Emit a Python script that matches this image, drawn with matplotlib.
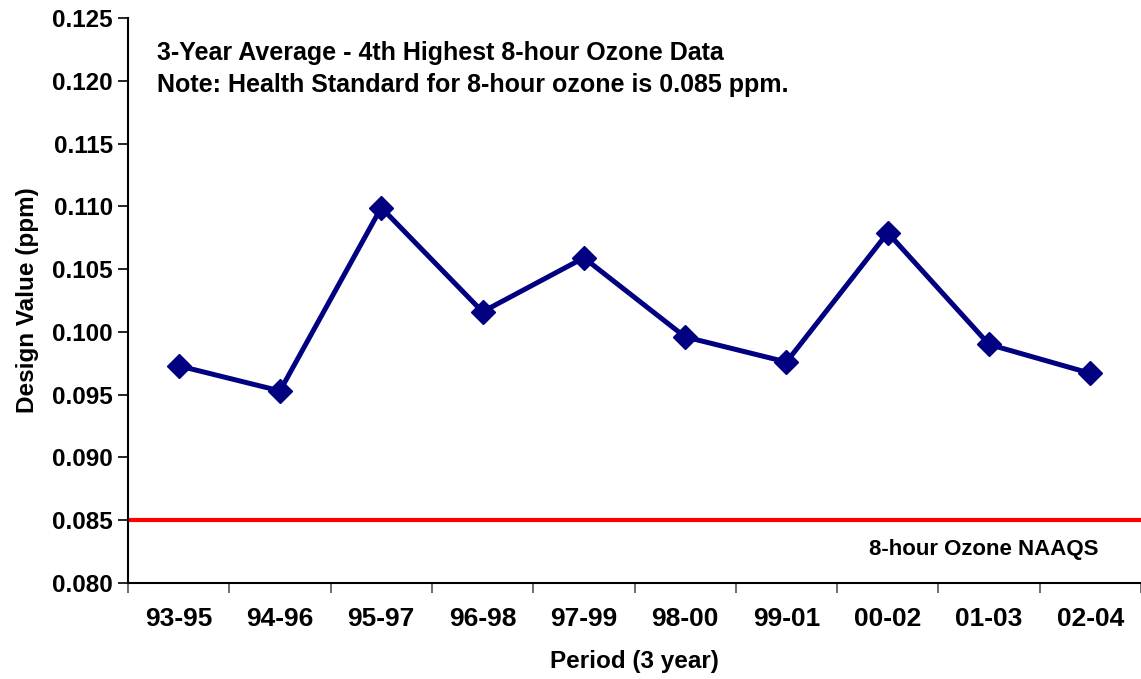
import numpy as np
from matplotlib import pyplot as plt

periods = ['93-95', '94-96', '95-97', '96-98', '97-99', '98-00', '99-01', '00-02', '01-03', '02-04']
design_values = [0.0973, 0.0953, 0.1099, 0.1016, 0.1059, 0.0996, 0.0976, 0.1079, 0.0990, 0.0967]
naaqs = 0.085

plt.rcParams['font.family'] = ['Liberation Sans', 'DejaVu Sans']
plt.rcParams['font.weight'] = 'bold'

fig = plt.figure(figsize=(11.41, 6.79), dpi=100)
ax = fig.add_axes([128 / 1141, 1 - 583 / 679, 1 - 128 / 1141, (583 - 18) / 679])

x = np.arange(len(periods))
ax.plot(x, design_values, color='#000080', linewidth=3.6, marker='D', markersize=12, zorder=3)
ax.axhline(naaqs, color='#ff0000', linewidth=3, zorder=2)

ax.set_xlim(-0.5, len(periods) - 0.5)
ax.set_ylim(0.080, 0.125)
yt = np.arange(0.080, 0.1251, 0.005)
ax.set_yticks(yt)
ax.set_yticklabels(['%.3f' % v for v in yt], fontsize=17.5, fontweight='bold')
ax.set_xticks(x)
ax.set_xticklabels(periods, fontsize=19, fontweight='bold')
ax.set_xticks(np.arange(-0.5, len(periods)), minor=True)
ax.tick_params(axis='x', which='major', length=0, pad=17)
ax.tick_params(axis='x', which='minor', length=7, width=1.2, color='#555555')
ax.tick_params(axis='y', length=7, width=1.2, pad=4)

for s in ['top', 'right']:
    ax.spines[s].set_visible(False)
for s in ['left', 'bottom']:
    ax.spines[s].set_linewidth(1.5)

ax.set_ylabel('Design Value (ppm)', fontsize=17.5, fontweight='bold', labelpad=9)
ax.set_xlabel('Period (3 year)', fontsize=17.5, fontweight='bold', labelpad=14)

ax.text(0.029, 0.96, '3-Year Average - 4th Highest 8-hour Ozone Data\nNote: Health Standard for 8-hour ozone is 0.085 ppm.',
        transform=ax.transAxes, fontsize=18, fontweight='bold', va='top', ha='left', linespacing=1.45)
ax.text(0.958, 0.0595, '8-hour Ozone NAAQS', transform=ax.transAxes, fontsize=16, fontweight='bold',
        ha='right', va='center')

plt.savefig('out.png', dpi=100)
